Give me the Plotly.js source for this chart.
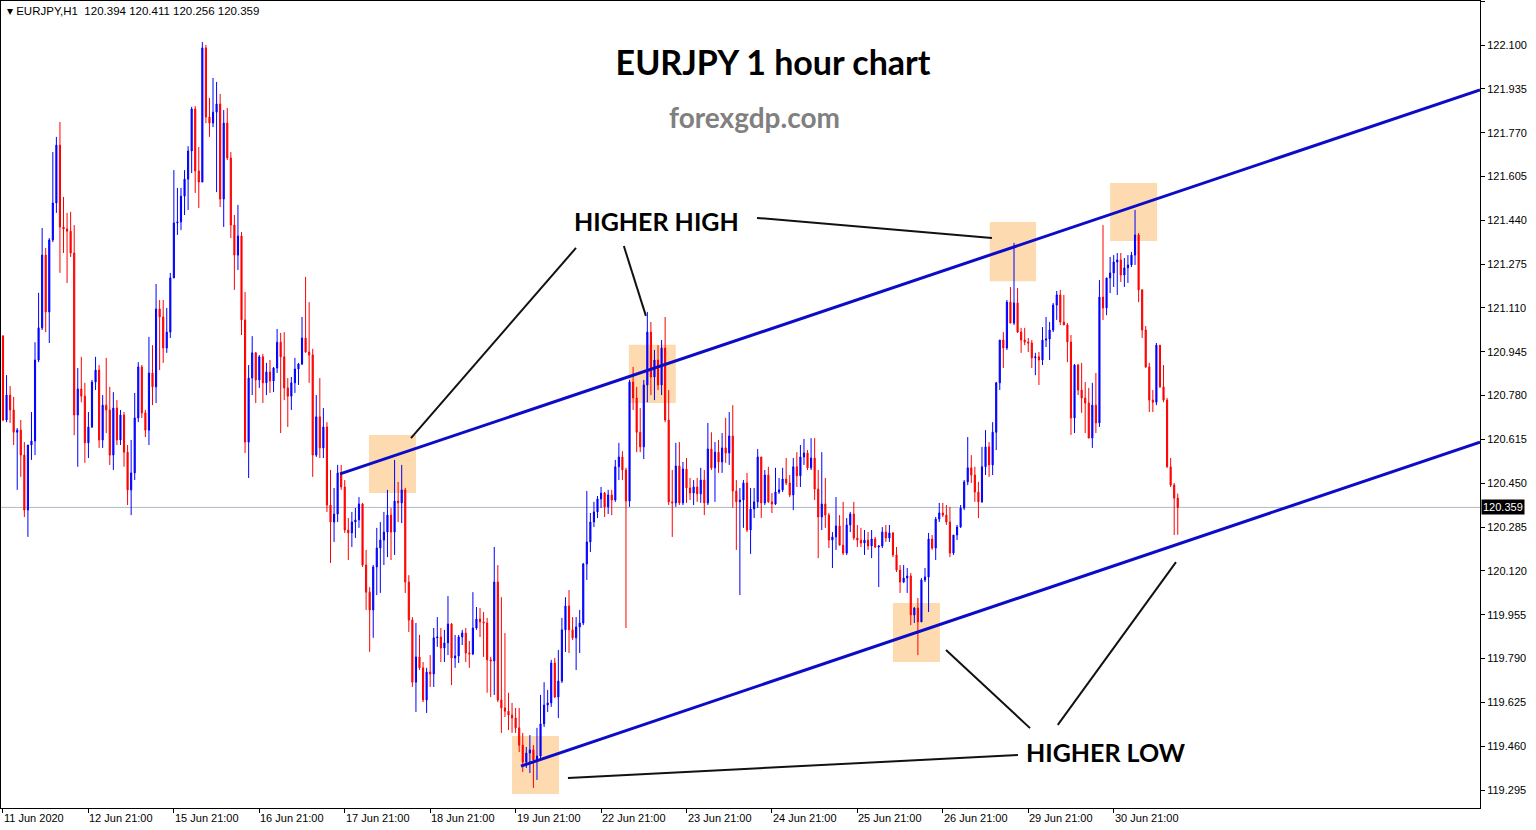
<!DOCTYPE html>
<html><head><meta charset="utf-8">
<script src="https://cdn.plot.ly/plotly-3.0.1.min.js"></script>
<style>html,body{margin:0;padding:0;background:#fff;overflow:hidden}#chart{width:1536px;height:830px}</style>
</head><body><div id="chart"></div>
<script>
// ---------- DATA (EURJPY H1) ----------
const symbol = "EURJPY,H1";
const open = [
121.004,120.688,120.782,120.726,120.642,120.650,120.556,120.349,120.594,120.609,
120.914,121.035,121.309,121.095,121.366,121.505,121.723,121.415,121.407,121.399,
121.317,120.707,120.805,120.778,120.602,120.662,120.831,120.876,120.613,120.744,
120.726,120.556,120.733,120.613,120.707,120.567,120.425,120.489,120.696,120.888,
120.715,120.650,120.865,120.813,121.106,121.076,120.959,121.019,121.223,121.430,
121.434,121.531,121.595,121.701,121.859,121.626,121.584,122.089,121.829,121.806,
121.847,121.878,121.520,121.806,121.675,121.422,121.309,121.381,121.065,120.605,
120.846,120.941,120.839,120.926,120.828,120.869,120.835,120.884,120.981,120.926,
120.809,120.778,120.828,120.880,120.899,120.997,120.944,120.933,120.556,120.700,
120.583,120.662,120.368,120.304,120.334,120.489,120.436,120.274,120.263,120.304,
120.312,120.372,120.142,120.040,119.973,120.135,120.206,120.236,120.266,120.330,
120.266,120.383,120.376,120.425,120.078,119.935,119.701,119.796,119.755,119.634,
119.739,119.732,119.868,119.871,119.830,119.849,119.920,119.792,119.800,119.871,
119.886,119.811,119.807,119.905,119.939,119.928,119.924,119.785,119.781,120.078,
119.634,119.604,119.592,119.577,119.566,119.529,119.464,119.400,119.434,119.446,
119.408,119.423,119.544,119.615,119.623,119.773,119.645,119.705,119.898,119.988,
119.898,119.868,119.909,119.924,120.146,120.229,120.304,120.342,120.391,120.413,
120.361,120.406,120.387,120.512,120.549,120.500,120.383,120.831,120.771,120.642,
120.587,120.820,121.019,120.850,120.914,120.820,120.959,120.688,120.380,120.376,
120.515,120.376,120.504,120.432,120.413,120.436,120.410,120.462,120.376,120.579,
120.508,120.567,120.530,120.583,120.564,120.628,120.421,120.380,120.387,120.451,
120.274,120.353,120.380,120.549,120.376,120.481,120.380,120.372,120.417,120.425,
120.466,120.451,120.406,120.512,120.478,120.549,120.564,120.508,120.545,120.428,
120.323,120.372,120.330,120.236,120.248,120.289,120.217,120.187,120.293,120.334,
120.244,120.236,120.225,120.236,120.214,120.240,120.210,120.214,120.266,120.244,
120.263,120.180,120.123,120.078,120.093,120.101,119.954,119.980,119.928,120.086,
120.097,120.240,120.206,120.315,120.338,120.330,120.304,120.187,120.255,120.285,
120.357,120.455,120.508,120.481,120.417,120.380,120.512,120.587,120.519,120.642,
120.828,120.989,120.959,121.132,121.053,121.129,121.019,120.989,120.982,120.978,
120.922,120.926,120.914,120.989,120.993,121.027,121.121,121.159,121.057,121.046,
120.982,120.696,120.895,120.801,120.771,120.752,120.620,120.744,120.677,121.151,
121.110,121.223,121.242,121.283,121.291,121.234,121.261,121.272,121.309,121.385,
121.178,121.027,120.888,120.763,120.755,120.970,120.813,120.763,120.512,120.443,
120.394];
const high = [
121.008,120.857,120.816,120.775,120.658,120.688,120.605,120.594,120.718,120.981,
121.167,121.411,121.336,121.373,121.697,121.754,121.810,121.528,121.468,121.472,
121.422,120.884,120.926,120.828,120.718,120.839,120.926,120.895,120.782,120.922,
120.813,120.793,120.763,120.726,120.718,120.594,120.613,120.790,120.906,120.895,
120.726,121.001,120.970,121.200,121.140,121.140,121.110,121.242,121.629,121.562,
121.562,121.629,121.719,121.867,121.870,121.716,122.111,122.100,121.901,121.976,
121.961,121.916,121.855,121.863,121.697,121.460,121.498,121.396,121.170,120.895,
121.004,120.944,120.933,120.937,120.903,120.914,120.888,121.031,121.016,121.019,
120.846,120.850,120.922,120.903,121.076,121.227,121.132,120.956,120.782,120.846,
120.733,120.680,120.500,120.432,120.519,120.519,120.462,120.319,120.342,120.357,
120.398,120.376,120.199,120.059,120.142,120.282,120.304,120.342,120.425,120.357,
120.538,120.455,120.519,120.432,120.104,119.946,119.924,119.879,119.777,119.755,
119.803,119.905,119.946,119.905,119.898,120.025,119.924,119.879,119.879,119.898,
119.905,119.856,120.040,119.984,119.980,119.965,119.943,119.796,120.210,120.142,
120.021,119.886,119.661,119.623,119.604,119.604,119.510,119.457,119.502,119.464,
119.529,119.653,119.701,119.672,119.785,119.792,119.822,119.943,120.021,120.048,
119.946,119.946,119.973,120.150,120.421,120.338,120.380,120.402,120.436,120.417,
120.425,120.425,120.538,120.602,120.571,120.508,120.839,120.888,120.813,120.733,
120.839,121.095,121.057,120.952,120.970,120.989,121.076,120.801,120.500,120.602,
120.605,120.530,120.545,120.470,120.462,120.470,120.508,120.500,120.677,120.642,
120.605,120.613,120.639,120.696,120.718,120.744,120.462,120.432,120.462,120.489,
120.432,120.432,120.579,120.549,120.500,120.512,120.413,120.508,120.470,120.508,
120.545,120.481,120.545,120.567,120.594,120.617,120.575,120.620,120.620,120.500,
120.567,120.470,120.338,120.266,120.398,120.330,120.380,120.319,120.342,120.380,
120.293,120.282,120.274,120.266,120.274,120.248,120.217,120.285,120.293,120.293,
120.266,120.210,120.142,120.142,120.131,120.112,119.984,120.018,120.093,120.131,
120.263,120.255,120.323,120.376,120.376,120.368,120.361,120.255,120.293,120.368,
120.462,120.624,120.556,120.512,120.455,120.587,120.650,120.605,120.680,120.831,
120.989,121.019,121.140,121.189,121.355,121.185,121.035,121.035,120.997,120.989,
120.941,120.944,121.038,121.076,121.057,121.129,121.174,121.178,121.159,121.053,
121.008,120.899,120.899,120.903,120.831,120.809,120.828,120.865,121.215,121.422,
121.223,121.302,121.309,121.317,121.317,121.298,121.309,121.321,121.479,121.392,
121.181,121.042,120.903,120.801,120.978,120.970,120.895,120.771,120.545,120.451,
120.411];
const low = [
120.684,120.680,120.677,120.594,120.425,120.474,120.323,120.248,120.538,120.556,
120.906,121.027,121.019,120.978,121.358,121.468,121.242,121.317,121.204,121.302,
120.631,120.512,120.755,120.527,120.545,120.658,120.801,120.583,120.583,120.639,
120.519,120.500,120.594,120.594,120.512,120.368,120.330,120.462,120.680,120.696,
120.624,120.594,120.744,120.752,120.876,120.903,120.941,120.997,121.223,121.385,
121.403,121.460,121.479,121.618,121.543,121.486,121.584,121.806,121.754,121.791,
121.546,121.490,121.415,121.667,121.373,121.178,121.253,121.008,120.564,120.470,
120.782,120.752,120.809,120.752,120.782,120.790,120.793,120.865,120.639,120.763,
120.662,120.726,120.790,120.820,120.895,120.941,120.828,120.474,120.549,120.545,
120.545,120.342,120.150,120.229,120.304,120.425,120.263,120.161,120.210,120.244,
120.282,120.135,119.973,119.815,119.868,120.029,120.037,120.142,120.172,120.161,
120.180,120.304,120.300,120.037,119.890,119.683,119.589,119.747,119.626,119.585,
119.683,119.683,119.834,119.777,119.777,119.803,119.690,119.755,119.773,119.841,
119.777,119.755,119.803,119.898,119.871,119.796,119.661,119.645,119.653,119.626,
119.510,119.570,119.521,119.510,119.510,119.438,119.363,119.378,119.359,119.303,
119.333,119.415,119.532,119.589,119.608,119.642,119.566,119.698,119.815,119.811,
119.860,119.747,119.811,119.916,120.086,120.191,120.285,120.319,120.357,120.323,
120.334,120.330,120.380,120.462,120.462,119.905,120.361,120.726,120.567,120.567,
120.541,120.755,120.782,120.763,120.801,120.782,120.680,120.368,120.248,120.361,
120.368,120.368,120.376,120.387,120.368,120.380,120.376,120.330,120.368,120.500,
120.380,120.489,120.489,120.527,120.519,120.357,120.199,120.029,120.282,120.266,
120.184,120.319,120.357,120.319,120.368,120.376,120.338,120.368,120.410,120.417,
120.443,120.398,120.349,120.436,120.436,120.519,120.500,120.500,120.387,120.168,
120.274,120.282,120.206,120.131,120.199,120.217,120.180,120.180,120.266,120.236,
120.210,120.210,120.180,120.199,120.168,120.206,120.059,120.206,120.229,120.229,
120.172,120.116,120.037,120.074,120.037,119.916,119.924,119.803,119.928,120.078,
119.965,120.199,120.161,120.304,120.323,120.293,120.172,120.180,120.236,120.282,
120.349,120.443,120.451,120.380,120.319,120.376,120.481,120.474,120.481,120.575,
120.801,120.884,120.952,121.053,121.046,121.016,120.941,120.970,120.944,120.884,
120.857,120.820,120.895,120.963,120.914,121.019,121.065,121.046,121.046,120.906,
120.632,120.639,120.782,120.715,120.639,120.620,120.583,120.639,120.662,121.065,
121.083,121.166,121.189,121.159,121.208,121.189,121.204,121.264,121.272,121.132,
120.997,120.884,120.718,120.718,120.744,120.809,120.755,120.508,120.436,120.255,
120.256];
const close = [
120.688,120.782,120.726,120.642,120.650,120.556,120.349,120.594,120.609,120.914,
121.035,121.309,121.095,121.366,121.505,121.723,121.415,121.407,121.399,121.317,
120.707,120.805,120.778,120.602,120.662,120.831,120.876,120.613,120.744,120.726,
120.556,120.733,120.613,120.707,120.567,120.425,120.489,120.696,120.888,120.715,
120.650,120.865,120.813,121.106,121.076,120.959,121.019,121.223,121.430,121.434,
121.531,121.595,121.701,121.859,121.626,121.584,122.089,121.829,121.806,121.847,
121.878,121.520,121.806,121.675,121.422,121.309,121.381,121.065,120.605,120.846,
120.941,120.839,120.926,120.828,120.869,120.835,120.884,120.981,120.926,120.809,
120.778,120.828,120.880,120.899,120.997,120.944,120.933,120.556,120.700,120.583,
120.662,120.368,120.304,120.334,120.489,120.436,120.274,120.263,120.304,120.312,
120.372,120.142,120.040,119.973,120.135,120.206,120.236,120.266,120.330,120.266,
120.383,120.376,120.425,120.078,119.935,119.701,119.796,119.755,119.634,119.739,
119.732,119.868,119.871,119.830,119.849,119.920,119.792,119.800,119.871,119.886,
119.811,119.807,119.905,119.939,119.928,119.924,119.785,119.781,120.078,119.634,
119.604,119.592,119.577,119.566,119.529,119.464,119.400,119.434,119.446,119.408,
119.423,119.544,119.615,119.623,119.773,119.645,119.705,119.898,119.988,119.898,
119.868,119.909,119.924,120.146,120.229,120.304,120.342,120.391,120.413,120.361,
120.406,120.387,120.512,120.549,120.500,120.383,120.831,120.771,120.642,120.587,
120.820,121.019,120.850,120.914,120.820,120.959,120.688,120.380,120.376,120.515,
120.376,120.504,120.432,120.413,120.436,120.410,120.462,120.376,120.579,120.508,
120.567,120.530,120.583,120.564,120.628,120.421,120.380,120.387,120.451,120.274,
120.353,120.380,120.549,120.376,120.481,120.380,120.372,120.417,120.425,120.466,
120.451,120.406,120.512,120.478,120.549,120.564,120.508,120.545,120.428,120.323,
120.372,120.330,120.236,120.248,120.289,120.217,120.187,120.293,120.334,120.244,
120.236,120.225,120.236,120.214,120.240,120.210,120.214,120.266,120.244,120.263,
120.180,120.123,120.078,120.093,120.101,119.954,119.980,119.928,120.086,120.097,
120.240,120.206,120.315,120.338,120.330,120.304,120.187,120.255,120.285,120.357,
120.455,120.508,120.481,120.417,120.380,120.512,120.587,120.519,120.642,120.828,
120.989,120.959,121.132,121.053,121.129,121.019,120.989,120.982,120.978,120.922,
120.926,120.914,120.989,120.993,121.027,121.121,121.159,121.057,121.046,120.982,
120.696,120.895,120.801,120.771,120.752,120.620,120.744,120.677,121.151,121.110,
121.223,121.242,121.283,121.291,121.234,121.261,121.272,121.309,121.385,121.178,
121.027,120.888,120.763,120.755,120.970,120.813,120.763,120.512,120.443,120.394,
120.359];

// time axis labels (bar index of each label)
const timeTickIndex  = [0, 24, 48, 72, 96, 120, 144, 168, 192, 216, 240, 264, 288, 312];
const timeTickLabels = ["11 Jun 2020","12 Jun 21:00","15 Jun 21:00","16 Jun 21:00","17 Jun 21:00",
  "18 Jun 21:00","19 Jun 21:00","22 Jun 21:00","23 Jun 21:00","24 Jun 21:00","25 Jun 21:00",
  "26 Jun 21:00","29 Jun 21:00","30 Jun 21:00"];

// channel trend lines (bar index, price)
const upperLineIdx = [94.7, 414.9];
const upperLinePrice = [120.485, 121.931];
const lowerLineIdx = [145.5, 414.9];
const lowerLinePrice = [119.385, 120.605];

// highlighted swing zones [idx0, idx1, priceLow, priceHigh]
const zoneIdx0 = [102.8, 175.8, 277.2, 311.0, 250.0, 143.0];
const zoneIdx1 = [116.0, 189.0, 290.2, 324.2, 263.2, 156.2];
const zoneLow  = [120.413, 120.752, 121.211, 121.362, 119.777, 119.280];
const zoneHigh = [120.632, 120.971, 121.434, 121.580, 119.999, 119.498];

// pointer lines for the labels
const pointerX0 = [160.96, 174.4, 211.8, 158.7, 264.9, 296.3];
const pointerY0 = [121.336, 121.343, 121.449, 119.340, 119.822, 119.540];
const pointerX1 = [114.6, 180.6, 277.8, 285.1, 288.5, 329.5];
const pointerY1 = [120.620, 121.080, 121.373, 119.427, 119.528, 120.153];

const labelText = ["HIGHER HIGH", "HIGHER LOW"];
const labelIdx = [183.7, 309.8];
const labelPrice = [121.437, 119.438];

// ---------- CHART ----------
const idx = open.map((_, i) => i);
const n = close.length;
const lastClose = close[n - 1];
const fmt = v => v.toFixed(3);

const trace = {
  type: 'candlestick', x: idx, open: open, high: high, low: low, close: close,
  increasing: {line: {color: '#0000ff', width: 1}, fillcolor: '#0000ff'},
  decreasing: {line: {color: '#ff0000', width: 1}, fillcolor: '#ff0000'},
  whiskerwidth: 0, hoverinfo: 'skip', showlegend: false
};

const shapes = [];
shapes.push({type: 'line', xref: 'paper', yref: 'y', x0: 0, x1: 1, y0: lastClose, y1: lastClose,
  line: {color: '#b0bac4', width: 1}, layer: 'below'});
for (let i = 0; i < zoneIdx0.length; i++) {
  shapes.push({type: 'rect', xref: 'x', yref: 'y', x0: zoneIdx0[i], x1: zoneIdx1[i], y0: zoneLow[i], y1: zoneHigh[i],
    fillcolor: 'rgba(252,196,128,0.62)', line: {width: 0}, layer: 'below'});
}
shapes.push({type: 'line', xref: 'x', yref: 'y', x0: upperLineIdx[0], x1: upperLineIdx[1], y0: upperLinePrice[0], y1: upperLinePrice[1],
  line: {color: '#0c0cc8', width: 3}});
shapes.push({type: 'line', xref: 'x', yref: 'y', x0: lowerLineIdx[0], x1: lowerLineIdx[1], y0: lowerLinePrice[0], y1: lowerLinePrice[1],
  line: {color: '#0c0cc8', width: 3}});
for (let i = 0; i < pointerX0.length; i++) {
  shapes.push({type: 'line', xref: 'x', yref: 'y', x0: pointerX0[i], y0: pointerY0[i], x1: pointerX1[i], y1: pointerY1[i],
    line: {color: '#111111', width: 2}});
}

const annotations = [];
annotations.push({xref: 'paper', yref: 'paper', x: 0, y: 1, xanchor: 'left', yanchor: 'top', xshift: 4, yshift: -2,
  showarrow: false, align: 'left',
  text: '\u25BE ' + symbol + '  ' + fmt(open[n-1]) + ' ' + fmt(high[n-1]) + ' ' + fmt(low[n-1]) + ' ' + fmt(close[n-1]),
  font: {family: 'Liberation Sans, Arial, sans-serif', size: 11.5, color: '#000'}});
annotations.push({xref: 'paper', yref: 'paper', x: 0.5098, y: 0.8563, xanchor: 'center', yanchor: 'middle',
  showarrow: false, text: '<b>forexgdp.com</b>', font: {family: 'Lato, sans-serif', size: 28, color: '#808080'}});
for (let i = 0; i < labelText.length; i++) {
  annotations.push({xref: 'x', yref: 'y', x: labelIdx[i], y: labelPrice[i], xanchor: 'center', yanchor: 'middle',
    showarrow: false, text: '<b>' + labelText[i] + '</b>', font: {family: 'Lato, sans-serif', size: 25, color: '#000'}});
}
for (let i = 0; i < timeTickIndex.length; i++) {
  annotations.push({xref: 'x', yref: 'paper', x: timeTickIndex[i], y: 0, xanchor: 'left', yanchor: 'top', yshift: -2, xshift: -1,
    showarrow: false, text: timeTickLabels[i], font: {family: 'Liberation Sans, Arial, sans-serif', size: 11, color: '#000'}});
}
annotations.push({xref: 'paper', yref: 'y', x: 1, y: lastClose, xanchor: 'left', yanchor: 'middle', xshift: 1,
  showarrow: false, text: fmt(lastClose), bgcolor: '#000', borderpad: 1,
  font: {family: 'Liberation Sans, Arial, sans-serif', size: 11, color: '#fff'}});

const layout = {
  width: 1536, height: 830,
  margin: {l: 1, r: 56, t: 1, b: 22, pad: 0},
  paper_bgcolor: '#fff', plot_bgcolor: '#fff',
  boxgap: 0.55,
  title: {text: '<b>EURJPY 1 hour chart</b>', xref: 'container', yref: 'container', x: 773/1536, y: 1 - 63/830,
    xanchor: 'center', yanchor: 'middle', font: {family: 'Lato, sans-serif', size: 34, color: '#000'}},
  xaxis: {type: 'linear', range: [-0.56, 414.9], showgrid: false, zeroline: false,
    showline: true, mirror: true, linecolor: '#000', linewidth: 1,
    tickvals: timeTickIndex, ticks: 'outside', ticklen: 4, tickcolor: '#000', showticklabels: false,
    rangeslider: {visible: false}, fixedrange: true},
  yaxis: {range: [119.2273, 122.2657], side: 'right', showgrid: false, zeroline: false,
    showline: true, mirror: true, linecolor: '#000', linewidth: 1,
    tick0: 119.295, dtick: 0.165, tickformat: '.3f', ticks: 'outside', ticklen: 4, tickcolor: '#000',
    tickfont: {family: 'Liberation Sans, Arial, sans-serif', size: 11, color: '#000'}, fixedrange: true},
  shapes: shapes, annotations: annotations, showlegend: false
};

Plotly.newPlot('chart', [trace], layout, {displayModeBar: false, staticPlot: true});
</script>
</body></html>
